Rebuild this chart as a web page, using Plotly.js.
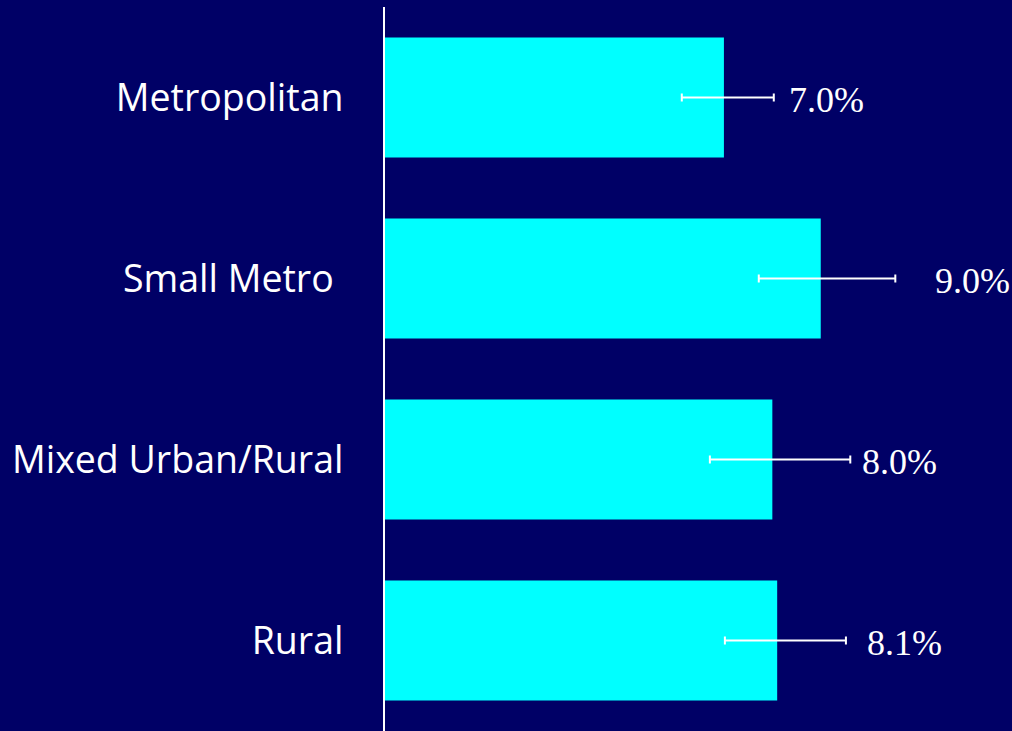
<!DOCTYPE html>
<html>
<head>
<meta charset="utf-8">
<script src="https://cdn.plot.ly/plotly-3.0.1.min.js"></script>
<style>html,body{margin:0;padding:0;background:#000066;}#chart{width:1012px;height:731px;}</style>
</head>
<body>
<div id="chart"></div>
<script>
const categories = ["Metropolitan", "Small Metro\u00a0", "Mixed Urban/Rural", "Rural"];
const values = [7.0, 9.0, 8.0, 8.1];
const errorPlus = [1.03, 1.54, 1.61, 1.42];
const errorMinus = [0.87, 1.28, 1.29, 1.08];
const valueLabels = ["7.0%", "9.0%", "8.0%", "8.1%"];

const labelShift = [13, 38, 10, 19];

const trace = {
  type: "bar",
  orientation: "h",
  x: values,
  y: categories,
  marker: {color: "#00FFFF", line: {width: 0}},
  error_x: {
    type: "data",
    symmetric: false,
    array: errorPlus,
    arrayminus: errorMinus,
    color: "#FFFFFF",
    thickness: 2,
    width: 4
  },
  hoverinfo: "none"
};

const annotations = categories.map((c, i) => ({
  x: values[i] + errorPlus[i],
  y: c,
  xref: "x",
  yref: "y",
  text: valueLabels[i],
  showarrow: false,
  xanchor: "left",
  yanchor: "middle",
  xshift: labelShift[i],
  yshift: -2,
  font: {family: "Liberation Serif, Times New Roman, serif", size: 36, color: "#FFFFFF"}
}));

const layout = {
  width: 1012,
  height: 731,
  margin: {l: 385, r: 0, t: 7, b: 0},
  paper_bgcolor: "#000066",
  plot_bgcolor: "#000066",
  bargap: 0.337,
  showlegend: false,
  xaxis: {
    range: [0, 12.95],
    showgrid: false,
    zeroline: false,
    showline: false,
    showticklabels: false,
    ticks: ""
  },
  yaxis: {
    autorange: "reversed",
    showgrid: false,
    zeroline: false,
    showline: true,
    linecolor: "#FFFFFF",
    linewidth: 2,
    ticks: "",
    ticklabelstandoff: 32,
    tickfont: {family: "Open Sans, Noto Sans, sans-serif", size: 37.5, color: "#FFFFFF"}
  },
  annotations: annotations
};

Plotly.newPlot("chart", [trace], layout, {displayModeBar: false, staticPlot: true});
</script>
</body>
</html>
